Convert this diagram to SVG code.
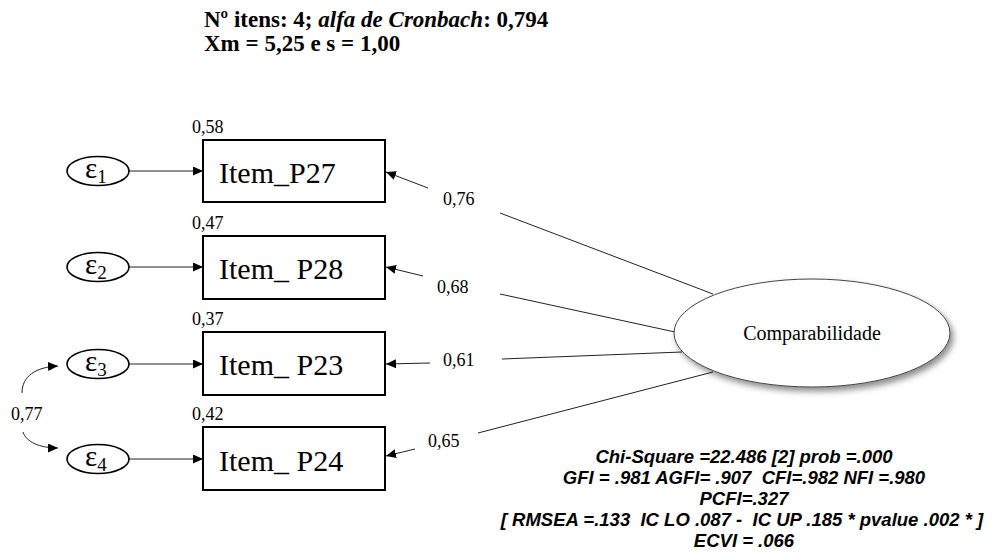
<svg xmlns="http://www.w3.org/2000/svg" width="992" height="552" viewBox="0 0 992 552">
<defs>
<marker id="ah" markerUnits="userSpaceOnUse" markerWidth="11" markerHeight="9" refX="10" refY="4.5" orient="auto"><path d="M0,0 L10,4.5 L0,9 z" fill="#000"/></marker>
<filter id="sh" x="-10%" y="-20%" width="125%" height="150%"><feDropShadow dx="3" dy="4" stdDeviation="3" flood-color="#000" flood-opacity="0.45"/></filter>
</defs>
<style>
.t{font-family:"Liberation Serif","Times New Roman",serif;fill:#000}
.box{fill:#fff;stroke:#000;stroke-width:2}
.err{fill:#fff;stroke:#000;stroke-width:1.6}
.ln{stroke:#222;stroke-width:1;fill:none}
.it{font-size:30px}
.nm{font-size:18px}
.eps{font-size:29px}
.sub{font-size:19px}
.fit{font-family:"Liberation Sans",Arial,sans-serif;font-weight:bold;font-style:italic;font-size:18.5px;fill:#000}
</style>
<rect width="992" height="552" fill="#fff"/>
<g id="title">
<text class="t" x="204" y="27" font-size="23" font-weight="bold">Nº itens: 4; <tspan font-style="italic">alfa de Cronbach</tspan>: 0,794</text>
<text class="t" x="204" y="51" font-size="23" font-weight="bold">Xm = 5,25 e s = 1,00</text>
</g>
<g id="connectors">
<line class="ln" x1="129" y1="171" x2="203" y2="171" marker-end="url(#ah)"/>
<line class="ln" x1="129" y1="267" x2="203" y2="267" marker-end="url(#ah)"/>
<line class="ln" x1="129" y1="364" x2="203" y2="364" marker-end="url(#ah)"/>
<line class="ln" x1="129" y1="459" x2="203" y2="459" marker-end="url(#ah)"/>
<line class="ln" x1="428" y1="188" x2="386" y2="172" marker-end="url(#ah)"/>
<line class="ln" x1="500" y1="213" x2="713" y2="294"/>
<line class="ln" x1="423" y1="276" x2="386" y2="267" marker-end="url(#ah)"/>
<line class="ln" x1="500" y1="294" x2="675" y2="332"/>
<line class="ln" x1="430" y1="363" x2="386" y2="364" marker-end="url(#ah)"/>
<line class="ln" x1="502" y1="359" x2="682" y2="352"/>
<line class="ln" x1="415" y1="449" x2="386" y2="456" marker-end="url(#ah)"/>
<line class="ln" x1="478" y1="433" x2="713" y2="372"/>
<path class="ln" d="M22,393 C22,376 36,367 58,366" marker-end="url(#ah)"/>
<path class="ln" d="M23,432 C26,442 40,448 58,448" marker-end="url(#ah)"/>
<text class="t nm" x="443" y="205">0,76</text>
<text class="t nm" x="437" y="293">0,68</text>
<text class="t nm" x="443" y="366">0,61</text>
<text class="t nm" x="428" y="447">0,65</text>
<text class="t nm" x="11" y="420">0,77</text>
</g>
<g id="e1"><ellipse class="err" cx="98" cy="171" rx="31" ry="14.5"/><text class="t eps" x="85" y="178">ε<tspan class="sub" dy="5">1</tspan></text></g>
<g id="e2"><ellipse class="err" cx="98" cy="267" rx="31" ry="14.5"/><text class="t eps" x="85" y="274">ε<tspan class="sub" dy="5">2</tspan></text></g>
<g id="e3"><ellipse class="err" cx="98" cy="364" rx="31" ry="14.5"/><text class="t eps" x="85" y="371">ε<tspan class="sub" dy="5">3</tspan></text></g>
<g id="e4"><ellipse class="err" cx="98" cy="459" rx="31" ry="14.5"/><text class="t eps" x="85" y="466">ε<tspan class="sub" dy="5">4</tspan></text></g>
<g id="p27"><rect class="box" x="203" y="140" width="182" height="62"/><text class="t it" x="219" y="183">Item_P27</text><text class="t nm" x="192" y="133">0,58</text></g>
<g id="p28"><rect class="box" x="203" y="236" width="182" height="63"/><text class="t it" x="219" y="279">Item_ P28</text><text class="t nm" x="192" y="229">0,47</text></g>
<g id="p23"><rect class="box" x="203" y="332" width="182" height="63"/><text class="t it" x="219" y="375">Item_ P23</text><text class="t nm" x="192" y="325">0,37</text></g>
<g id="p24"><rect class="box" x="203" y="427" width="182" height="63"/><text class="t it" x="219" y="471">Item_ P24</text><text class="t nm" x="192" y="420">0,42</text></g>
<g id="comp"><ellipse cx="812" cy="333" rx="138" ry="54" fill="#fff" stroke="#444" stroke-width="1" filter="url(#sh)"/><text class="t" x="812" y="340" font-size="20" text-anchor="middle">Comparabilidade</text></g>
<g id="fit">
<text class="fit" x="744" y="463" text-anchor="middle">Chi-Square =22.486 [2] prob =.000</text>
<text class="fit" x="744" y="484" text-anchor="middle" xml:space="preserve">GFI = .981 AGFI= .907  CFI=.982 NFI =.980</text>
<text class="fit" x="744" y="505" text-anchor="middle">PCFI=.327</text>
<text class="fit" x="742" y="526" text-anchor="middle" xml:space="preserve">[ RMSEA =.133  IC LO .087 -  IC UP .185 * pvalue .002 * ]</text>
<text class="fit" x="744" y="547" text-anchor="middle">ECVI = .066</text>
</g>
</svg>
